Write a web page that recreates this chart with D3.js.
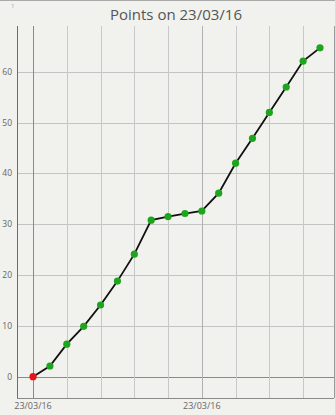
<!DOCTYPE html>
<html>
<head>
<meta charset="utf-8">
<script src="https://cdn.jsdelivr.net/npm/d3@7"></script>
<style>
  body { margin: 0; background: #f1f1ed; }
  svg { display: block; font-family: "Open Sans", sans-serif; }
</style>
</head>
<body>
<svg width="336" height="415"></svg>
<script>
const [w, h] = [336, 415];
const points = [0, 2.1, 6.4, 9.9, 14.1, 18.8, 24.1, 30.8, 31.5, 32.1, 32.6, 36.1, 42.0, 46.9, 52.0, 57.0, 62.1, 64.7];
const yTicks = [0, 10, 20, 30, 40, 50, 60];
const xGrid = [0, 2, 4, 6, 8, 10, 12, 14, 16];
const xLabels = [{i: 0, text: '23/03/16'}, {i: 10, text: '23/03/16'}];
const title = 'Points on 23/03/16';

const svg = d3.select('svg');

const xScale = d3.scaleLinear().domain([-0.95, 17.83]).range([17, 334]);
const yScale = d3.scaleLinear().domain([-4.2, 69]).range([398, 26]);

// frame lines
svg.append('line').attr('x1', 0).attr('x2', w).attr('y1', 0.5).attr('y2', 0.5)
    .attr('stroke', '#aaa');
svg.append('line').attr('x1', 335.5).attr('x2', 335.5).attr('y1', 0).attr('y2', h)
    .attr('stroke', '#ddd');

svg.append('text').attr('x', 11).attr('y', 8).attr('font-size', 6)
    .attr('fill', '#aaa').text('1');

svg.append('text').attr('x', 176).attr('y', 20).attr('text-anchor', 'middle')
    .attr('font-size', 15).attr('fill', '#555').text(title);

// horizontal grid
svg.append('g').selectAll('line').data(yTicks).enter().append('line')
    .attr('x1', 17).attr('x2', 334)
    .attr('y1', d => Math.round(yScale(d)) + 0.5).attr('y2', d => Math.round(yScale(d)) + 0.5)
    .attr('stroke', d => d === 0 ? '#8a8a8a' : '#c4c4c4');

// vertical grid
svg.append('g').selectAll('line').data(xGrid).enter().append('line')
    .attr('x1', d => Math.round(xScale(d)) + 0.5).attr('x2', d => Math.round(xScale(d)) + 0.5)
    .attr('y1', 26).attr('y2', 398)
    .attr('stroke', d => d === 0 ? '#8a8a8a' : (d === 10 ? '#b0b0b0' : '#c8c8c8'));

// axes
svg.append('line').attr('x1', 17.5).attr('x2', 17.5).attr('y1', 26).attr('y2', 398)
    .attr('stroke', '#6e6e6e');
svg.append('line').attr('x1', 17).attr('x2', 334).attr('y1', 398.5).attr('y2', 398.5)
    .attr('stroke', '#8a8a8a');
svg.append('line').attr('x1', 334.5).attr('x2', 334.5).attr('y1', 26).attr('y2', 398)
    .attr('stroke', '#9a9a9a');

svg.append('g').selectAll('text').data(yTicks).enter().append('text')
    .attr('x', 12).attr('y', d => yScale(d) + 3)
    .attr('text-anchor', 'end').attr('font-size', 8.5).attr('fill', '#666')
    .text(d => d);

svg.append('g').selectAll('text').data(xLabels).enter().append('text')
    .attr('x', d => xScale(d.i)).attr('y', 409)
    .attr('text-anchor', 'middle').attr('font-size', 9).attr('fill', '#666')
    .text(d => d.text);

const line = d3.line()
    .x((d, i) => xScale(i))
    .y(d => yScale(d));

svg.append('path').datum(points)
    .attr('d', line)
    .attr('fill', 'none')
    .attr('stroke', '#111')
    .attr('stroke-width', 1.8);

svg.append('g').selectAll('circle').data(points).enter().append('circle')
    .attr('cx', (d, i) => xScale(i))
    .attr('cy', d => yScale(d))
    .attr('r', 3.6)
    .attr('fill', (d, i) => i === 0 ? '#e8141c' : '#1ea51e');
</script>
</body>
</html>
